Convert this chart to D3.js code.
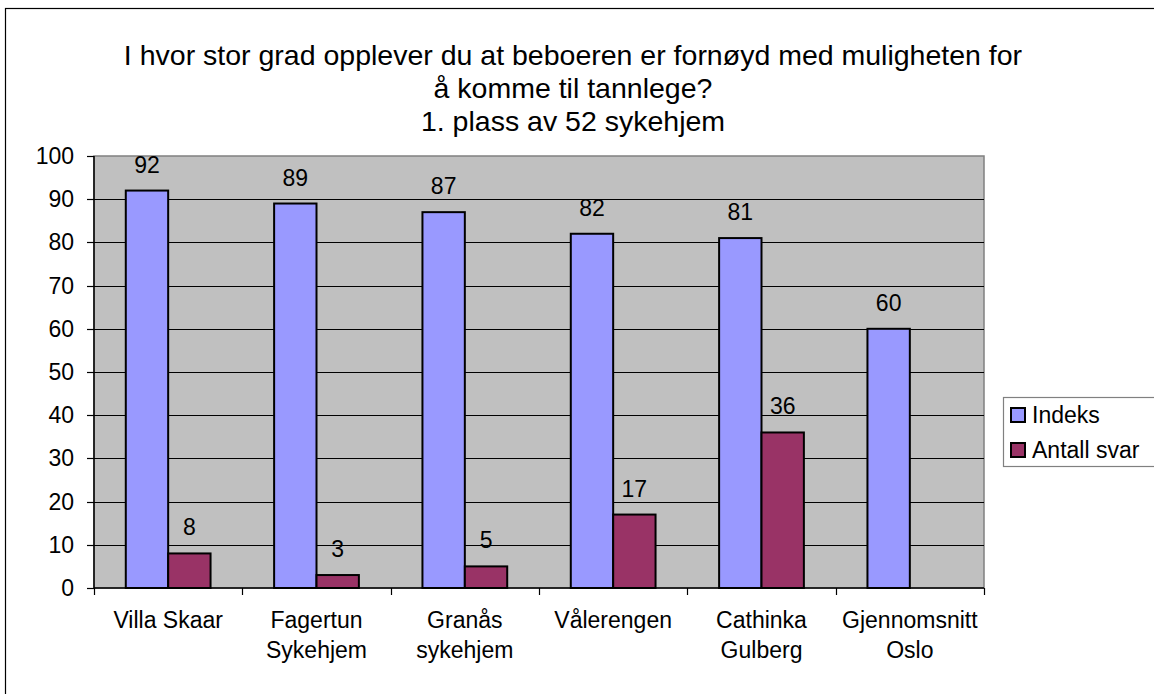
<!DOCTYPE html>
<html>
<head>
<meta charset="utf-8">
<script src="https://cdn.jsdelivr.net/npm/d3@7"></script>
<style>
  body { margin: 0; background: #fff; }
  svg text { font-family: "Liberation Sans", Arial, sans-serif; fill: #000; }
</style>
</head>
<body>
<svg id="chart" width="1154" height="694"></svg>
<script>
// data
var categories = [["Villa Skaar"], ["Fagertun", "Sykehjem"], ["Granås", "sykehjem"], ["Vålerengen"], ["Cathinka", "Gulberg"], ["Gjennomsnitt", "Oslo"]];
var indeks = [92, 89, 87, 82, 81, 60];
var antallSvar = [8, 3, 5, 17, 36, null];
var seriesNames = ["Indeks", "Antall svar"];
var seriesColors = ["#9999FF", "#993366"];
var titleLines = ["I hvor stor grad opplever du at beboeren er fornøyd med muligheten for", "å komme til tannlege?", "1. plass av 52 sykehjem"];
var yTicks = d3.range(0, 101, 10);

var svg = d3.select("#chart");

// plot area (ne pas utiliser "top", réservé par window)
var pLeft = 94, pRight = 984, pTop = 156, pBottom = 588;
var fs = "23px";

// outer frame of the chart
svg.append("rect")
    .attr("x", 5.5).attr("y", 8.5)
    .attr("width", 1160).attr("height", 700)
    .attr("fill", "none").attr("stroke", "#000").attr("stroke-width", 1.2);

// titre
svg.append("g").selectAll("text")
    .data(titleLines)
    .enter()
    .append("text")
    .attr("x", 573)
    .attr("y", function(d, i){ return 65 + i*33; })
    .attr("text-anchor", "middle")
    .style("font-size", "28.5px")
    .text(function(d){ return d; });

var x = d3.scaleBand()
    .domain(d3.range(categories.length))
    .range([pLeft, pRight]);

var y = d3.scaleLinear()
    .domain([0, 100])
    .range([pBottom, pTop]);

// fond gris
svg.append("rect")
    .attr("x", pLeft).attr("y", pTop)
    .attr("width", pRight-pLeft).attr("height", pBottom-pTop)
    .attr("fill", "#C0C0C0")
    .attr("stroke", "#808080").attr("stroke-width", 1.5);

// gridlines
svg.append("g").selectAll("line")
    .data(yTicks.slice(1, -1))
    .enter()
    .append("line")
    .attr("x1", pLeft).attr("x2", pRight)
    .attr("y1", function(d){ return Math.round(y(d)) + 0.5; })
    .attr("y2", function(d){ return Math.round(y(d)) + 0.5; })
    .attr("stroke", "#000").attr("stroke-width", 1);

// bar geometry: 2 bars + gap of 1.5 bar per category
var bw = x.bandwidth() / 3.5;
var offset = bw * 0.75;

function drawSeries(values, idx){
    var pts = values.map(function(v, i){ return {v: v, i: i}; })
                    .filter(function(d){ return d.v !== null; });
    var g = svg.append("g");
    g.selectAll("rect")
        .data(pts)
        .enter()
        .append("rect")
        .attr("x", function(d){ return x(d.i) + offset + idx*bw; })
        .attr("y", function(d){ return y(d.v); })
        .attr("width", bw)
        .attr("height", function(d){ return y(0) - y(d.v); })
        .attr("fill", seriesColors[idx])
        .attr("stroke", "#000").attr("stroke-width", 2);
    g.selectAll("text")
        .data(pts)
        .enter()
        .append("text")
        .attr("x", function(d){ return x(d.i) + offset + idx*bw + bw/2; })
        .attr("y", function(d){ return y(d.v) - 18; })
        .attr("text-anchor", "middle")
        .style("font-size", fs)
        .text(function(d){ return d.v; });
}
drawSeries(indeks, 0);
drawSeries(antallSvar, 1);

// axe y
var yAxis = svg.append("g").attr("transform", "translate(" + pLeft + ",0)");
yAxis.append("line")
    .attr("x1", 0).attr("x2", 0).attr("y1", pTop).attr("y2", pBottom)
    .attr("stroke", "#000").attr("stroke-width", 1.5);
yAxis.selectAll("line.tick")
    .data(yTicks)
    .enter()
    .append("line")
    .attr("class", "tick")
    .attr("x1", -7).attr("x2", 0)
    .attr("y1", function(d){ return Math.round(y(d)) + 0.5; })
    .attr("y2", function(d){ return Math.round(y(d)) + 0.5; })
    .attr("stroke", "#000").attr("stroke-width", 1.2);
yAxis.selectAll("text")
    .data(yTicks)
    .enter()
    .append("text")
    .attr("x", -20)
    .attr("y", function(d){ return y(d) + 8; })
    .attr("text-anchor", "end")
    .style("font-size", fs)
    .text(function(d){ return d; });

// axe x
var xAxis = svg.append("g");
xAxis.append("line")
    .attr("x1", pLeft).attr("x2", pRight).attr("y1", pBottom).attr("y2", pBottom)
    .attr("stroke", "#000").attr("stroke-width", 1.5);
xAxis.selectAll("line.tick")
    .data(d3.range(categories.length + 1))
    .enter()
    .append("line")
    .attr("class", "tick")
    .attr("x1", function(d){ return Math.round(pLeft + d*x.bandwidth()) + 0.5; })
    .attr("x2", function(d){ return Math.round(pLeft + d*x.bandwidth()) + 0.5; })
    .attr("y1", pBottom).attr("y2", pBottom + 7)
    .attr("stroke", "#000").attr("stroke-width", 1.2);
xAxis.selectAll("text")
    .data(categories)
    .enter()
    .append("text")
    .attr("text-anchor", "middle")
    .attr("transform", function(d, i){ return "translate(" + (x(i) + x.bandwidth()/2) + ",628)"; })
    .style("font-size", fs)
    .each(function(d){
        var t = d3.select(this);
        d.forEach(function(line, k){
            t.append("tspan").attr("x", 0).attr("y", k*30).text(line);
        });
    });

// légende
var legend = svg.append("g");
legend.append("rect")
    .attr("x", 1003.5).attr("y", 397.5)
    .attr("width", 160).attr("height", 69)
    .attr("fill", "#fff").attr("stroke", "#808080").attr("stroke-width", 1.2);
var items = legend.selectAll("g")
    .data(seriesNames)
    .enter()
    .append("g")
    .attr("transform", function(d, i){ return "translate(1011," + (408 + i*35) + ")"; });
items.append("rect")
    .attr("width", 14).attr("height", 14)
    .attr("fill", function(d, i){ return seriesColors[i]; })
    .attr("stroke", "#000").attr("stroke-width", 2);
items.append("text")
    .attr("x", 21).attr("y", 15)
    .style("font-size", fs)
    .text(function(d){ return d; });
</script>
</body>
</html>
